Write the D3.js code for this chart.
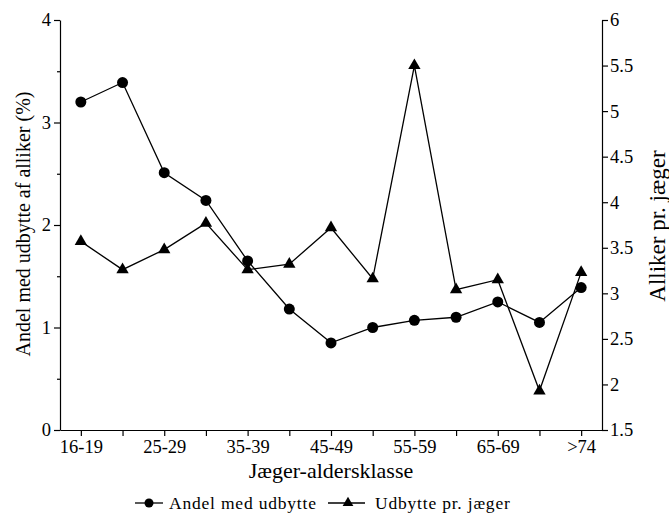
<!DOCTYPE html>
<html lang="da">
<head>
    <meta charset="UTF-8">
    <title>Alliker pr. jæger-aldersklasse</title>
    <script src="https://d3js.org/d3.v7.min.js"></script>
    <style>
        body { margin: 0; background: #fff; }
        text { font-family: "Liberation Serif", "Times New Roman", serif; fill: #000; }
    </style>
</head>
<body>
    <svg width="669" height="513"></svg>
    <script>
        // age classes (x)
        const ageClasses = ['16-19', '20-24', '25-29', '30-34', '35-39', '40-44', '45-49',
                            '50-54', '55-59', '60-64', '65-69', '70-74', '>74'];
        // share of hunters with jackdaw bag, % (left axis)
        const andel = [3.2, 3.39, 2.51, 2.24, 1.65, 1.18, 0.85, 1.0, 1.07, 1.1, 1.25, 1.05, 1.39];
        // jackdaws per hunter (right axis)
        const udbytte = [3.57, 3.26, 3.48, 3.77, 3.26, 3.32, 3.72, 3.16, 5.5, 3.04, 3.15, 1.93, 3.23];

        const leftTicks = [0, 1, 2, 3, 4];
        const leftMinor = [0.5, 1.5, 2.5, 3.5];
        const rightTicks = [1.5, 2, 2.5, 3, 3.5, 4, 4.5, 5, 5.5, 6];

        const svg = d3.select('svg');
        const plotLeft = 60, plotRight = 602, plotTop = 20, plotBottom = 430;
        const tickFont = 18.5;

        const x = d3.scalePoint().domain(ageClasses).range([plotLeft, plotRight]).padding(0.5);
        const yL = d3.scaleLinear().domain([0, 4]).range([plotBottom, plotTop]);
        const yR = d3.scaleLinear().domain([1.5, 6]).range([plotBottom, plotTop]);

        function styleAxis(g) {
            g.selectAll('path, line').attr('stroke', '#000').attr('stroke-width', 1.2);
            g.selectAll('text').attr('font-size', tickFont).attr('fill', '#000')
                .attr('font-family', '"Liberation Serif", serif');
        }

        // left axis
        svg.append('g')
            .attr('transform', `translate(${plotLeft},0)`)
            .call(d3.axisLeft(yL).tickValues(leftTicks).tickSize(6).tickSizeOuter(0).tickPadding(3)
                .tickFormat(d3.format('d')))
            .call(styleAxis);
        svg.append('g')
            .attr('transform', `translate(${plotLeft},0)`)
            .call(d3.axisLeft(yL).tickValues(leftMinor).tickSize(3).tickFormat(''))
            .call(g => { g.select('.domain').remove(); styleAxis(g); });

        // right axis
        svg.append('g')
            .attr('transform', `translate(${plotRight},0)`)
            .call(d3.axisRight(yR).tickValues(rightTicks).tickSize(6).tickSizeOuter(0).tickPadding(2)
                .tickFormat(d => String(d)))
            .call(styleAxis);

        // bottom axis
        svg.append('g')
            .attr('transform', `translate(0,${plotBottom})`)
            .call(d3.axisBottom(x).tickSize(6).tickSizeOuter(0).tickPadding(4)
                .tickFormat((d, i) => i % 2 === 0 ? d : ''))
            .call(styleAxis);

        // axis titles
        svg.append('text')
            .attr('transform', 'translate(30,224) rotate(-90)')
            .attr('text-anchor', 'middle')
            .attr('font-size', 20)
            .text('Andel med udbytte af alliker (%)');

        svg.append('text')
            .attr('transform', 'translate(665,226) rotate(-90)')
            .attr('text-anchor', 'middle')
            .attr('font-size', 23)
            .text('Alliker pr. jæger');

        svg.append('text')
            .attr('x', 331)
            .attr('y', 478)
            .attr('text-anchor', 'middle')
            .attr('font-size', 22)
            .text('Jæger-aldersklasse');

        // lines
        const lineL = d3.line().x((d, i) => x(ageClasses[i])).y(d => yL(d));
        const lineR = d3.line().x((d, i) => x(ageClasses[i])).y(d => yR(d));

        svg.append('path').datum(andel)
            .attr('d', lineL).attr('fill', 'none').attr('stroke', '#000').attr('stroke-width', 1.3);
        svg.append('path').datum(udbytte)
            .attr('d', lineR).attr('fill', 'none').attr('stroke', '#000').attr('stroke-width', 1.3);

        const tri = d3.symbol().type(d3.symbolTriangle).size(66);

        svg.selectAll('.dot').data(andel).join('circle')
            .attr('class', 'dot')
            .attr('cx', (d, i) => x(ageClasses[i]))
            .attr('cy', d => yL(d))
            .attr('r', 5.5)
            .attr('fill', '#000');

        svg.selectAll('.tri').data(udbytte).join('path')
            .attr('class', 'tri')
            .attr('transform', (d, i) => `translate(${x(ageClasses[i])},${yR(d)})`)
            .attr('d', tri)
            .attr('fill', '#000');

        // legend
        const legend = svg.append('g').attr('transform', 'translate(0,503)');
        legend.append('line').attr('x1', 135).attr('x2', 163).attr('stroke', '#000').attr('stroke-width', 1.3);
        legend.append('circle').attr('cx', 149).attr('r', 4.5).attr('fill', '#000');
        legend.append('text').attr('x', 169).attr('y', 6).attr('font-size', 17.5)
            .attr('letter-spacing', 0.8).text('Andel med udbytte');
        legend.append('line').attr('x1', 328).attr('x2', 365).attr('stroke', '#000').attr('stroke-width', 1.3);
        legend.append('path').attr('transform', 'translate(348,0)')
            .attr('d', d3.symbol().type(d3.symbolTriangle).size(50)).attr('fill', '#000');
        legend.append('text').attr('x', 375).attr('y', 6).attr('font-size', 17.5)
            .attr('letter-spacing', 0.8).text('Udbytte pr. jæger');
    </script>
</body>
</html>
